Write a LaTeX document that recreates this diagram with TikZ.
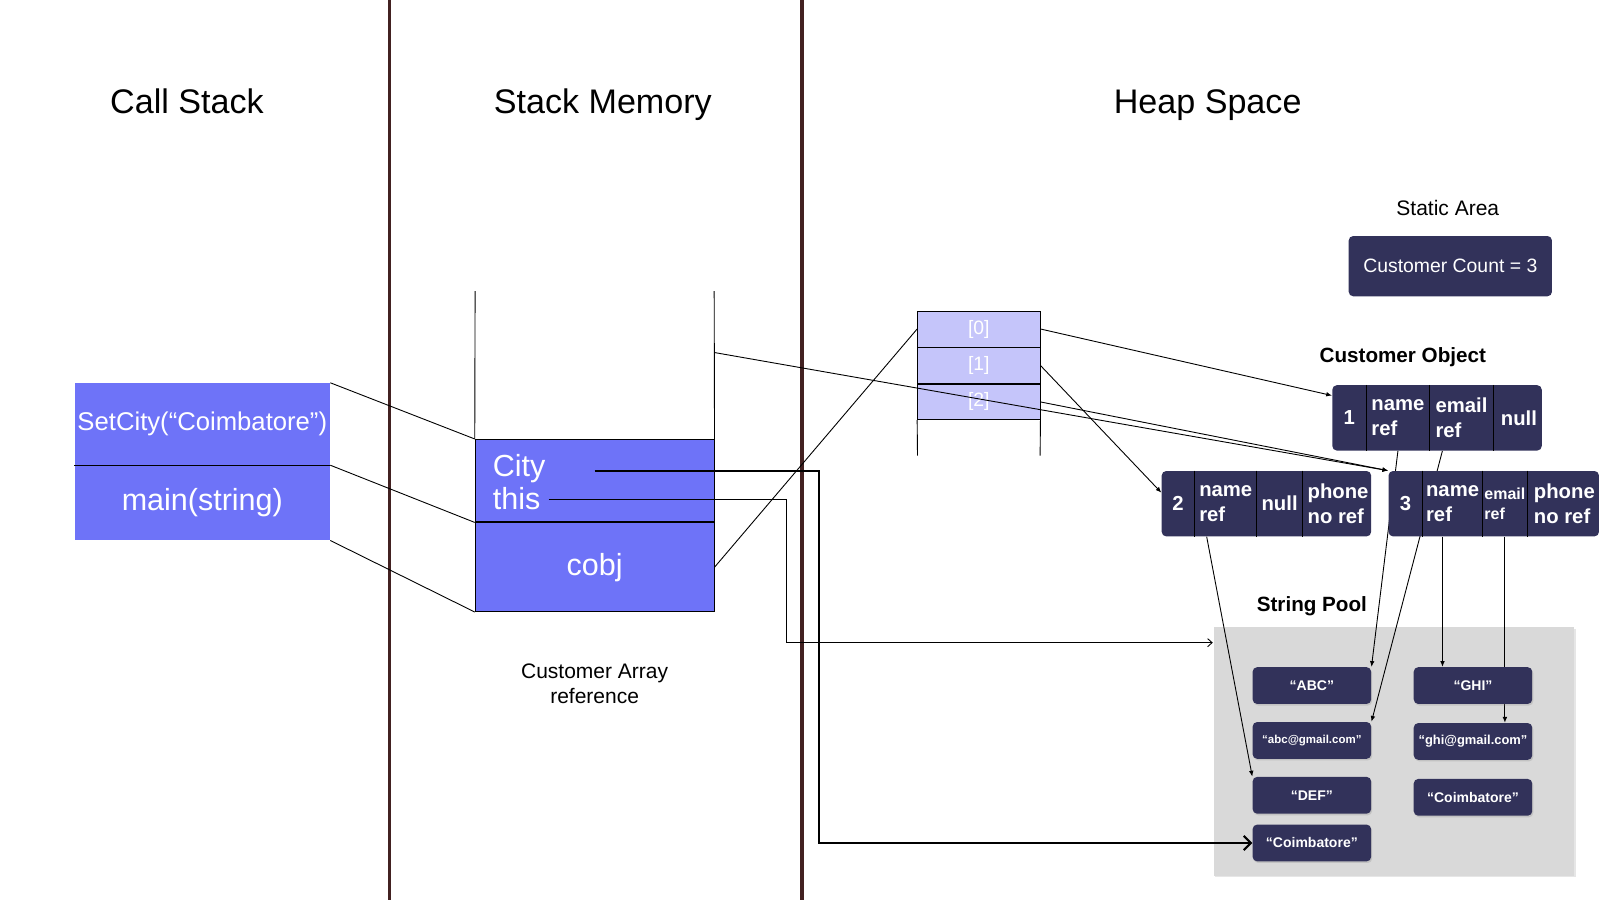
\documentclass[tikz,border=0pt]{standalone}
\usepackage{fontspec}
\setmainfont{Liberation Sans}
\usetikzlibrary{positioning,arrows.meta,shadows,backgrounds}

\definecolor{callblue}{RGB}{110,115,248}
\definecolor{slotblue}{RGB}{197,197,250}
\definecolor{heapnavy}{RGB}{50,50,90}
\definecolor{wallbrown}{RGB}{66,33,33}
\definecolor{poolgray}{RGB}{217,217,217}

\tikzset{
	heading/.style={font=\fontsize{19}{23}\selectfont, anchor=base},
	notetext/.style={font=\fontsize{11.7}{13.7}\selectfont, align=center},
	headline/.style={font=\fontsize{11.5}{14}\selectfont\bfseries},
	callframe/.style={fill=callblue, text=white, inner sep=0pt, minimum width=5cm},
	membox/.style={draw=black, fill=callblue, text=white, inner sep=0pt, minimum width=4.68cm, font=\fontsize{17}{20}\selectfont},
	slot/.style={draw=black, fill=slotblue, text=white, inner sep=0pt, minimum width=2.4cm, minimum height=0.7cm, font=\fontsize{10.8}{13}\selectfont},
	objbox/.style={fill=heapnavy, rounded corners=2.5pt, inner sep=0pt, minimum height=1.28cm},
	cell/.style={text=white, inner sep=0pt, minimum height=1.28cm, align=left, font=\fontsize{11.3}{13.7}\selectfont\bfseries},
	strbox/.style={fill=heapnavy, text=white, rounded corners=2.5pt, inner sep=0pt, minimum width=2.32cm, minimum height=0.72cm, font=\fontsize{7.8}{9}\selectfont\bfseries, drop shadow={opacity=0.25, shadow xshift=0.6pt, shadow yshift=-0.9pt}},
	poolrect/.style={fill=poolgray, minimum width=7.06cm, minimum height=4.86cm, drop shadow={opacity=0.2, shadow xshift=0.8pt, shadow yshift=-1pt}},
	ref/.style={line width=0.5pt},
	refarrow/.style={ref, -{Latex[length=3.2pt,width=2.6pt]}},
	cityarrow/.style={line width=1.1pt, -{Straight Barb[length=4pt,width=8pt]}},
	thisarrow/.style={ref, -{Straight Barb[length=2.5pt,width=4.5pt]}},
}

\begin{document}
\begin{tikzpicture}[x=0.02cm, y=-0.02cm]
	\useasboundingbox (0,0) rectangle (1566,881);
	
	\draw[wallbrown, line width=1.8pt] (381,0) -- (381,881);
	\draw[wallbrown, line width=1.8pt] (785,0) -- (785,881);
	
	\node[heading] (cstitle) at (183,111) {Call Stack};
	\node[heading] (smtitle) at (590,111) {Stack Memory};
	\node[heading] (hstitle) at (1182,111) {Heap Space};
	
	% call stack
	\node[callframe, minimum height=1.6cm, font=\fontsize{14.3}{17}\selectfont] (setcity) at (198,415) {SetCity(“Coimbatore”)};
	\node[callframe, minimum height=1.46cm, font=\fontsize{17}{20}\selectfont, below=0pt of setcity] (mainfn) {main(string)};
	\draw[ref] (setcity.south west) -- (setcity.south east);
	
	% stack memory
	\node[membox, minimum height=1.62cm] (cityframe) at (582,470.5) {};
	\node[membox, minimum height=1.74cm, below=0pt of cityframe] (cobj) {cobj};
	\draw[line width=1.1pt] (cityframe.south west) -- (cityframe.south east);
	\node[text=white, inner sep=0pt, anchor=base west, font=\fontsize{17}{20}\selectfont] (city) at (482,466) {City};
	\node[text=white, inner sep=0pt, anchor=base west, font=\fontsize{17}{20}\selectfont] (this) at (482,499) {this};
	\coordinate (wallL) at (465,285);
	\coordinate (wallR) at (699,285);
	\draw[ref] (wallL) -- (cityframe.north west);
	\draw[ref] (wallR) -- (cityframe.north east);
	\node[notetext] (arrnote) at (582,669) {Customer Array\\reference};
	
	\path[ref] (setcity.north east) edge (cityframe.north west);
	\path[ref] (setcity.south east) edge (cobj.north west);
	\path[ref] (mainfn.south east) edge (cobj.south west);
	
	% customer array
	\node[slot] (arr0) at (958,322) {[0]};
	\node[slot, below=0pt of arr0] (arr1) {[1]};
	\node[slot, below=0pt of arr1] (arr2) {[2]};
	\draw[line width=1.1pt] (arr1.south west) -- (arr1.south east);
	\coordinate (arrL) at (898,446);
	\coordinate (arrR) at (1018,446);
	\draw[ref] (arr2.south west) -- (arrL);
	\draw[ref] (arr2.south east) -- (arrR);
	
	% static area
	\node[notetext] (statictitle) at (1417,204) {Static Area};
	\node[objbox, minimum width=3.98cm, minimum height=1.18cm, text=white, font=\fontsize{10.8}{13}\selectfont] (counter) at (1419.5,260.5) {Customer Count = 3};
	
	% customer objects
	\node[headline] (objtitle) at (1373,350) {Customer Object};
	
	\node[objbox, minimum width=4.1cm] (obj1) at (1406.5,409) {};
	\node[cell, minimum width=0.66cm, anchor=west] (o1id) at (obj1.west) {1};
	\node[cell, minimum width=1.22cm, right=0pt of o1id] (o1name) {name\\ref};
	\node[cell, minimum width=1.24cm, right=0pt of o1name] (o1mail) {email\\ref};
	\node[cell, minimum width=0.98cm, right=0pt of o1mail] (o1null) {null};
	\foreach \c in {o1id,o1name,o1mail}
		\draw[ref] (\c.north east) -- (\c.south east);
	
	\node[objbox, minimum width=4.1cm] (obj2) at (1239.5,493) {};
	\node[cell, minimum width=0.64cm, anchor=west] (o2id) at (obj2.west) {2};
	\node[cell, minimum width=1.2cm, right=0pt of o2id] (o2name) {name\\ref};
	\node[cell, minimum width=0.88cm, right=0pt of o2name] (o2null) {null};
	\node[cell, minimum width=1.38cm, right=0pt of o2null] (o2phone) {phone\\no ref};
	\foreach \c in {o2id,o2name,o2null}
		\draw[ref] (\c.north east) -- (\c.south east);
	
	\node[objbox, minimum width=4.12cm] (obj3) at (1462,493) {};
	\node[cell, minimum width=0.66cm, anchor=west] (o3id) at (obj3.west) {3};
	\node[cell, minimum width=1.16cm, right=0pt of o3id] (o3name) {name\\ref};
	\node[cell, minimum width=0.86cm, right=0pt of o3name, font=\fontsize{8.9}{11}\selectfont\bfseries] (o3mail) {email\\ref};
	\node[cell, minimum width=1.44cm, right=0pt of o3mail] (o3phone) {phone\\no ref};
	\foreach \c in {o3id,o3name,o3mail}
		\draw[ref] (\c.north east) -- (\c.south east);
	
	% string pool
	\begin{scope}[on background layer]
		\node[poolrect] (pool) at (1364.5,735.5) {};
	\end{scope}
	\node[headline] (pooltitle) at (1284,593) {String Pool};
	\node[strbox] (abc) at (1284,671) {“ABC”};
	\node[strbox, below=0.34cm of abc, font=\fontsize{6.4}{8}\selectfont\bfseries] (abcmail) {“abc@gmail.com”};
	\node[strbox, below=0.34cm of abcmail] (def) {“DEF”};
	\node[strbox, below=0.2cm of def] (coimbL) {“Coimbatore”};
	\node[strbox, right=0.82cm of abc] (ghi) {“GHI”};
	\node[strbox, below=0.36cm of ghi, font=\fontsize{7.2}{9}\selectfont\bfseries] (ghimail) {“ghi@gmail.com”};
	\node[strbox, below=0.36cm of ghimail] (coimbR) {“Coimbatore”};
	
	% references
	\coordinate (wallpt) at (699,345);
	\path[ref] (cobj.east) edge (arr0.west);
	\path[refarrow] (wallpt) edge (obj3.north west);
	\path[refarrow] (arr0.east) edge (obj1.168);
	\path[refarrow] (arr1.east) edge (obj2.174);
	\path[refarrow] (arr2.east) edge (obj3.north west);
	
	\coordinate (cityref) at (582,461);
	\coordinate (cityturn) at (802,461);
	\draw[cityarrow] (cityref) -- (cityturn) |- (coimbL.west);
	\coordinate (thisref) at (537,489);
	\coordinate (thisturn) at (770,489);
	\coordinate (poolin) at (1187,629);
	\draw[thisarrow] (thisref) -- (thisturn) |- (poolin);
	
	\path[refarrow] (o2name.-120) edge (def.north west);
	\path[refarrow] (o3name.-107) edge (o3name.-107 |- ghi.north);
	\begin{scope}[on background layer]
		\path[refarrow] (o1name.south) edge (abc.north east);
		\path[refarrow] (o1mail.-120) edge (abcmail.north east);
		\path[refarrow] (o3mail.south) edge (o3mail.south |- ghimail.north);
	\end{scope}
\end{tikzpicture}
\end{document}
